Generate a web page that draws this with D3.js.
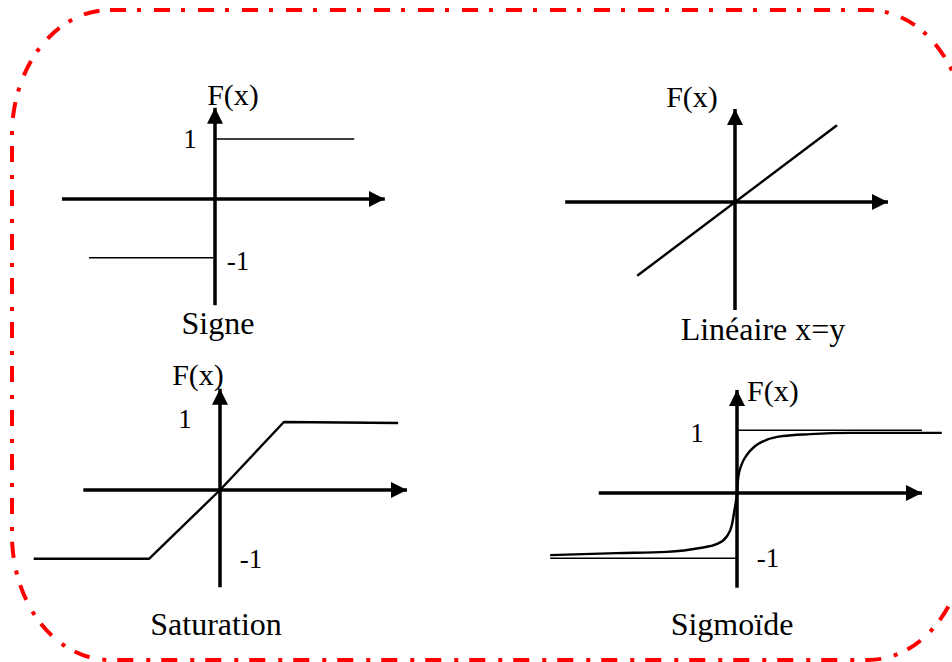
<!DOCTYPE html>
<html lang="fr">
  <head>
    <meta charset="utf-8"/>
    <script src="https://d3js.org/d3.v7.min.js"></script>
    <title>Fonctions d'activation</title>
  </head>
  <body style="margin:0;background:#fff;overflow:hidden">
    <svg id="chart" style="display:block"></svg>
  </body>

  <style>
  .axis { stroke: #000; stroke-width: 3.5px; fill: none; }
  .curve { stroke: #000; stroke-width: 2.4px; fill: none; stroke-linejoin: round; }
  .thin { stroke: #000; stroke-width: 1.6px; fill: none; }
  text { font-family: "Liberation Serif", "Times New Roman", serif; fill: #000; }
  </style>

  <script>
    const width = 952;
    const height = 662;

    // valeurs (unités : 1 = niveau "1")
    const signPos = [[0.02, 1], [2.32, 1]];
    const signNeg = [[-2.1, -0.98], [-0.03, -0.98]];
    const linear = [[-1.63, -1.23], [1.7, 1.28]];
    const saturation = [[-2.74, -1.01], [-1.04, -1.01], [0, 0], [0.94, 1.0], [2.62, 0.985]];
    const sigmoid = [
      [-2.92, -0.97], [-1.88, -0.94], [-1.1, -0.92], [-0.58, -0.86], [-0.32, -0.8],
      [-0.16, -0.68], [-0.08, -0.5], [-0.04, -0.27], [0, 0], [0.02, 0.25],
      [0.07, 0.44], [0.15, 0.59], [0.28, 0.73], [0.46, 0.83], [0.72, 0.89],
      [1.14, 0.92], [1.77, 0.94], [3.2, 0.94]
    ];
    const sigmoidTop = [[0, 0.98], [2.89, 0.98]];
    const sigmoidBottom = [[-2.92, -1.02], [0, -1.02]];

    const titles = ["Signe", "Linéaire x=y", "Saturation", "Sigmoïde"];

    // disposition de chaque panneau : origine, unité, étendue des axes
    const panels = [
      { ox: 215, oy: 199, unit: 60, x: [-2.55, 2.83], y: [-1.77, 1.52],
        curves: [{ d: signPos, cls: "thin" }, { d: signNeg, cls: "thin" }],
        fx: [233, 105, "middle"], one: [190, 148], minus: [238, 270], title: [218, 334] },
      { ox: 735, oy: 202, unit: 60, x: [-2.83, 2.55], y: [-1.8, 1.55],
        curves: [{ d: linear, cls: "curve" }],
        fx: [692, 107, "middle"], one: null, minus: null, title: [763, 340] },
      { ox: 220, oy: 490, unit: 68, x: [-2.01, 2.75], y: [-1.43, 1.49],
        curves: [{ d: saturation, cls: "curve" }],
        fx: [198, 385, "middle"], one: [185, 428], minus: [251, 568], title: [216, 635] },
      { ox: 737, oy: 493, unit: 64, x: [-2.16, 2.89], y: [-1.48, 1.61],
        curves: [{ d: sigmoidTop, cls: "thin" }, { d: sigmoidBottom, cls: "thin" },
                 { d: sigmoid, cls: "curve", smooth: true }],
        fx: [747, 401, "start"], one: [697, 442], minus: [768, 567], title: [732, 635] }
    ];

    const svg = d3.select("#chart")
      .attr("width", width)
      .attr("height", height);

    svg.append("defs").append("marker")
      .attr("id", "arrow")
      .attr("viewBox", "0 0 16 16")
      .attr("refX", 16)
      .attr("refY", 8)
      .attr("markerWidth", 16)
      .attr("markerHeight", 16)
      .attr("markerUnits", "userSpaceOnUse")
      .attr("orient", "auto")
      .append("path")
      .attr("d", "M0,0 L16,8 L0,16 Z")
      .attr("fill", "#000");

    // cadre rouge en tirets-points, bord droit hors champ
    svg.append("rect")
      .attr("x", 12)
      .attr("y", 10)
      .attr("width", 954)
      .attr("height", 650)
      .attr("rx", 98)
      .attr("ry", 125)
      .attr("fill", "none")
      .attr("stroke", "#ff0000")
      .attr("stroke-width", 4)
      .attr("stroke-dasharray", "16,11,4,13");

    panels.forEach(function(p, i) {
      const xScale = d3.scaleLinear().domain([0, 1]).range([p.ox, p.ox + p.unit]);
      const yScale = d3.scaleLinear().domain([0, 1]).range([p.oy, p.oy - p.unit]);
      const g = svg.append("g");

      // axes avec flèches
      g.append("line")
        .attr("class", "axis")
        .attr("x1", xScale(p.x[0])).attr("y1", yScale(0))
        .attr("x2", xScale(p.x[1])).attr("y2", yScale(0))
        .attr("marker-end", "url(#arrow)");
      g.append("line")
        .attr("class", "axis")
        .attr("x1", xScale(0)).attr("y1", yScale(p.y[0]))
        .attr("x2", xScale(0)).attr("y2", yScale(p.y[1]))
        .attr("marker-end", "url(#arrow)");

      p.curves.forEach(function(c) {
        const line = d3.line()
          .x(d => xScale(d[0]))
          .y(d => yScale(d[1]))
          .curve(c.smooth ? d3.curveMonotoneX : d3.curveLinear);
        g.append("path")
          .datum(c.d)
          .attr("class", c.cls)
          .attr("d", line);
      });

      g.append("text")
        .attr("x", p.fx[0]).attr("y", p.fx[1])
        .attr("text-anchor", p.fx[2])
        .style("font-size", "30px")
        .text("F(x)");

      if (p.one) {
        g.append("text")
          .attr("x", p.one[0]).attr("y", p.one[1])
          .attr("text-anchor", "middle")
          .style("font-size", "27px")
          .text("1");
      }
      if (p.minus) {
        g.append("text")
          .attr("x", p.minus[0]).attr("y", p.minus[1])
          .attr("text-anchor", "middle")
          .style("font-size", "27px")
          .text("-1");
      }

      g.append("text")
        .attr("x", p.title[0]).attr("y", p.title[1])
        .attr("text-anchor", "middle")
        .style("font-size", "32px")
        .text(titles[i]);
    });
  </script>
</html>
